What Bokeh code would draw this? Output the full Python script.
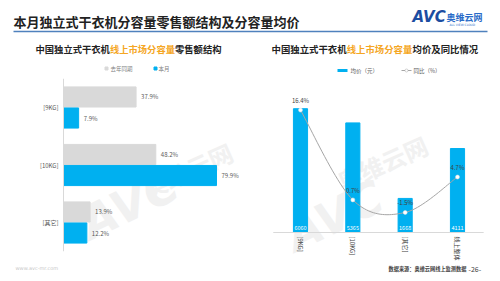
import numpy as np
from bokeh.plotting import figure
from bokeh.models import Range1d
from bokeh.core.properties import value
from bokeh.embed import file_html
from bokeh.resources import INLINE

# ---------------- data ----------------
left_categories = ["[9KG]", "[10KG]", "[其它]"]
left_series = ["去年同期", "本月"]
last_year_share = [37.9, 48.2, 13.9]
this_month_share = [7.9, 79.9, 12.2]

right_categories = ["[9KG]", "[10KG]", "[其它]", "线上整体"]
right_series = ["均价（元）", "同比（%）"]
avg_price = [6060, 5365, 1668, 4111]
yoy_pct = [16.4, 0.7, -1.5, 4.7]

main_title = "本月独立式干衣机分容量零售额结构及分容量均价"
left_title = ["中国独立式干衣机", "线上市场分容量", "零售额结构"]
right_title = ["中国独立式干衣机", "线上市场分容量", "均价及同比情况"]
source_note = "数据来源：奥维云网线上监测数据"
page_no = "-26-"
site = "www.avc-mr.com"

# ---------------- style ----------------
W, H = 500, 281
FONT = value("Noto Sans CJK SC")
GRAY_BAR = "#d9d9d9"
BLUE = "#00b0f0"
ORANGE = "#f5a623"
TXT = "#404040"


def rng(px_a, v_a, px_b, v_b, size, vertical=False):
    k = (v_b - v_a) / (px_b - px_a)
    f = lambda px: v_a + (px - px_a) * k
    if vertical:
        return Range1d(start=f(size), end=f(0))
    return Range1d(start=f(0), end=f(size))


p = figure(width=W, height=H, x_range=Range1d(0, W), y_range=Range1d(H, 0),
           output_backend="svg", toolbar_location=None, min_border=0,
           x_axis_location=None, y_axis_location=None)
p.grid.visible = False
p.outline_line_color = None
p.background_fill_color = "white"

# chart areas
p.extra_x_ranges = {
    "lx": rng(63, 0, 254.5, 100, W),
    "rx": rng(300, 0, 457, 3, W),
}
p.extra_y_ranges = {
    "ly": rng(107, 0, 222, 2, H, vertical=True),
    "ry": rng(232, 0, 89, 7000, H, vertical=True),
    "rp": rng(232, -5, 89, 20, H, vertical=True),
}

# ---------------- watermarks ----------------
p.text(x=[95, 300], y=[250, 262], text=["AVC", "AVC"], angle=0.45,
       text_font=value("DejaVu Sans"), text_font_style="bold italic",
       text_font_size="46px", text_color="#f1f1f1")
p.text(x=[150, 345], y=[205, 198], text=["奥维云网", "奥维云网"], angle=0.42,
       text_font=FONT, text_font_style="bold", text_font_size="24px",
       text_color="#f1f1f1")

# ---------------- header ----------------
p.text(x=[13], y=[21], text=[main_title], text_font=FONT, text_font_style="bold",
       text_font_size="13px", text_color="#222222", text_baseline="middle")
p.segment(x0=[13], y0=[31], x1=[487], y1=[31], line_color="#4f81bd", line_width=1.5)
p.text(x=[412], y=[25], text=["AVC"], text_font=value("DejaVu Sans"),
       text_font_style="bold italic", text_font_size="15px", text_color="#1c4da1",
       text_baseline="bottom")
p.text(x=[446], y=[17], text=["奥维云网"], text_font=FONT, text_font_style="bold",
       text_font_size="9px", text_color="#2a6bc8", text_baseline="middle")
p.text(x=[449], y=[24], text=["ALL VIEW CLOUD"], text_font=value("DejaVu Sans"),
       text_font_size="3px", text_color="#2a6bc8", text_baseline="middle")

# subtitles
def subtitle(x0, parts, fs):
    cw = fs
    x = x0
    for i, t in enumerate(parts):
        p.text(x=[x], y=[48], text=[t], text_font=FONT, text_font_style="bold",
               text_font_size=f"{fs}px", text_color=ORANGE if i == 1 else "#222222",
               text_baseline="middle")
        x += cw * len(t)

subtitle(35, left_title, 9.3)
subtitle(271, right_title, 9.4)

# ---------------- left chart ----------------
li = np.arange(len(left_categories))
off, bh = 0.183, 0.35
p.hbar(y=li - off, left=0, right=last_year_share, height=bh, color=GRAY_BAR,
       x_range_name="lx", y_range_name="ly")
p.hbar(y=li + off, left=0, right=this_month_share, height=bh, color=BLUE,
       x_range_name="lx", y_range_name="ly")
p.segment(x0=[0], y0=[-0.5], x1=[0], y1=[len(left_categories) - 0.5],
          line_color="#d9d9d9", line_width=1, x_range_name="lx", y_range_name="ly")
p.text(x=[0] * len(li), y=li, text=left_categories, x_offset=-5,
       text_align="right", text_baseline="middle", text_font=FONT,
       text_font_size="6px", text_color="#595959", x_range_name="lx", y_range_name="ly")
p.text(x=last_year_share, y=li - off, text=[f"{v:.1f}%" for v in last_year_share],
       x_offset=5, text_baseline="middle", text_font=FONT, text_font_size="6px",
       text_color="#595959", x_range_name="lx", y_range_name="ly")
p.text(x=this_month_share, y=li + off, text=[f"{v:.1f}%" for v in this_month_share],
       x_offset=5, text_baseline="middle", text_font=FONT, text_font_size="6px",
       text_color="#595959", x_range_name="lx", y_range_name="ly")

# left legend
p.scatter(x=[106, 155], y=[68, 68], marker="square", size=3,
          color=[GRAY_BAR, BLUE])
p.text(x=[110, 158], y=[68, 68], text=left_series, text_font=FONT,
       text_font_size="5.5px", text_color="#7f7f7f", text_baseline="middle")

# ---------------- right chart ----------------
ri = np.arange(len(right_categories))
p.vbar(x=ri, top=avg_price, bottom=0, width=0.27, color=BLUE,
       x_range_name="rx", y_range_name="ry")
p.segment(x0=[-0.52], y0=[0], x1=[len(right_categories) - 0.5], y1=[0],
          line_color="#d9d9d9", line_width=1, x_range_name="rx", y_range_name="ry")
p.text(x=ri, y=[0] * len(ri), text=[str(v) for v in avg_price], y_offset=-3,
       text_align="center", text_baseline="bottom", text_font=FONT,
       text_font_size="5.5px", text_color="white", x_range_name="rx", y_range_name="ry")
p.text(x=ri, y=[0] * len(ri), text=right_categories, y_offset=4, angle=-np.pi / 2,
       text_align="left", text_baseline="middle", text_font=FONT,
       text_font_size="6px", text_color="#404040", x_range_name="rx", y_range_name="ry")


def catmull_rom(xs, ys, n=24):
    P = [(xs[0], ys[0])] + list(zip(xs, ys)) + [(xs[-1], ys[-1])]
    P = np.array(P, dtype=float)
    out = []
    t = np.linspace(0, 1, n)[:, None]
    for i in range(1, len(P) - 2):
        p0, p1, p2, p3 = P[i - 1], P[i], P[i + 1], P[i + 2]
        seg = 0.5 * ((2 * p1) + (-p0 + p2) * t + (2 * p0 - 5 * p1 + 4 * p2 - p3) * t ** 2
                     + (-p0 + 3 * p1 - 3 * p2 + p3) * t ** 3)
        out.append(seg if i == 1 else seg[1:])
    out = np.vstack(out)
    return out[:, 0], out[:, 1]


sx, sy = catmull_rom(list(ri), yoy_pct)
p.line(sx, sy, line_color="#a6a6a6", line_width=1, x_range_name="rx", y_range_name="rp")
p.scatter(x=ri, y=yoy_pct, size=4, fill_color="white", line_color="#e0e0e0",
          line_width=0.5, x_range_name="rx", y_range_name="rp")
p.text(x=ri, y=yoy_pct, text=[f"{v:.1f}%" for v in yoy_pct], y_offset=-5,
       text_align="center", text_baseline="bottom", text_font=FONT,
       text_font_size="6px", text_color="#404040", x_range_name="rx", y_range_name="rp")

# right legend
p.segment(x0=[337], y0=[70], x1=[347], y1=[70], line_color=BLUE, line_width=3)
p.segment(x0=[401], y0=[70], x1=[411], y1=[70], line_color="#a6a6a6", line_width=1)
p.scatter(x=[406], y=[70], size=3, fill_color="white", line_color="#a6a6a6", line_width=0.5)
p.text(x=[350, 413], y=[70, 70], text=right_series, text_font=FONT,
       text_font_size="5.5px", text_color="#595959", text_baseline="middle")

# ---------------- footer ----------------
p.text(x=[15], y=[267], text=[site], text_font=value("DejaVu Sans"),
       text_font_size="5px", text_color="#c8c8c8", text_baseline="middle")
p.text(x=[388], y=[268], text=[source_note], text_font=FONT, text_font_style="bold",
       text_font_size="5.2px", text_color="#404040", text_baseline="middle")
p.text(x=[468], y=[268], text=[page_no], text_font=FONT,
       text_font_size="7px", text_color="#404040", text_baseline="middle")

open("out.html", "w").write(file_html(p, INLINE))
